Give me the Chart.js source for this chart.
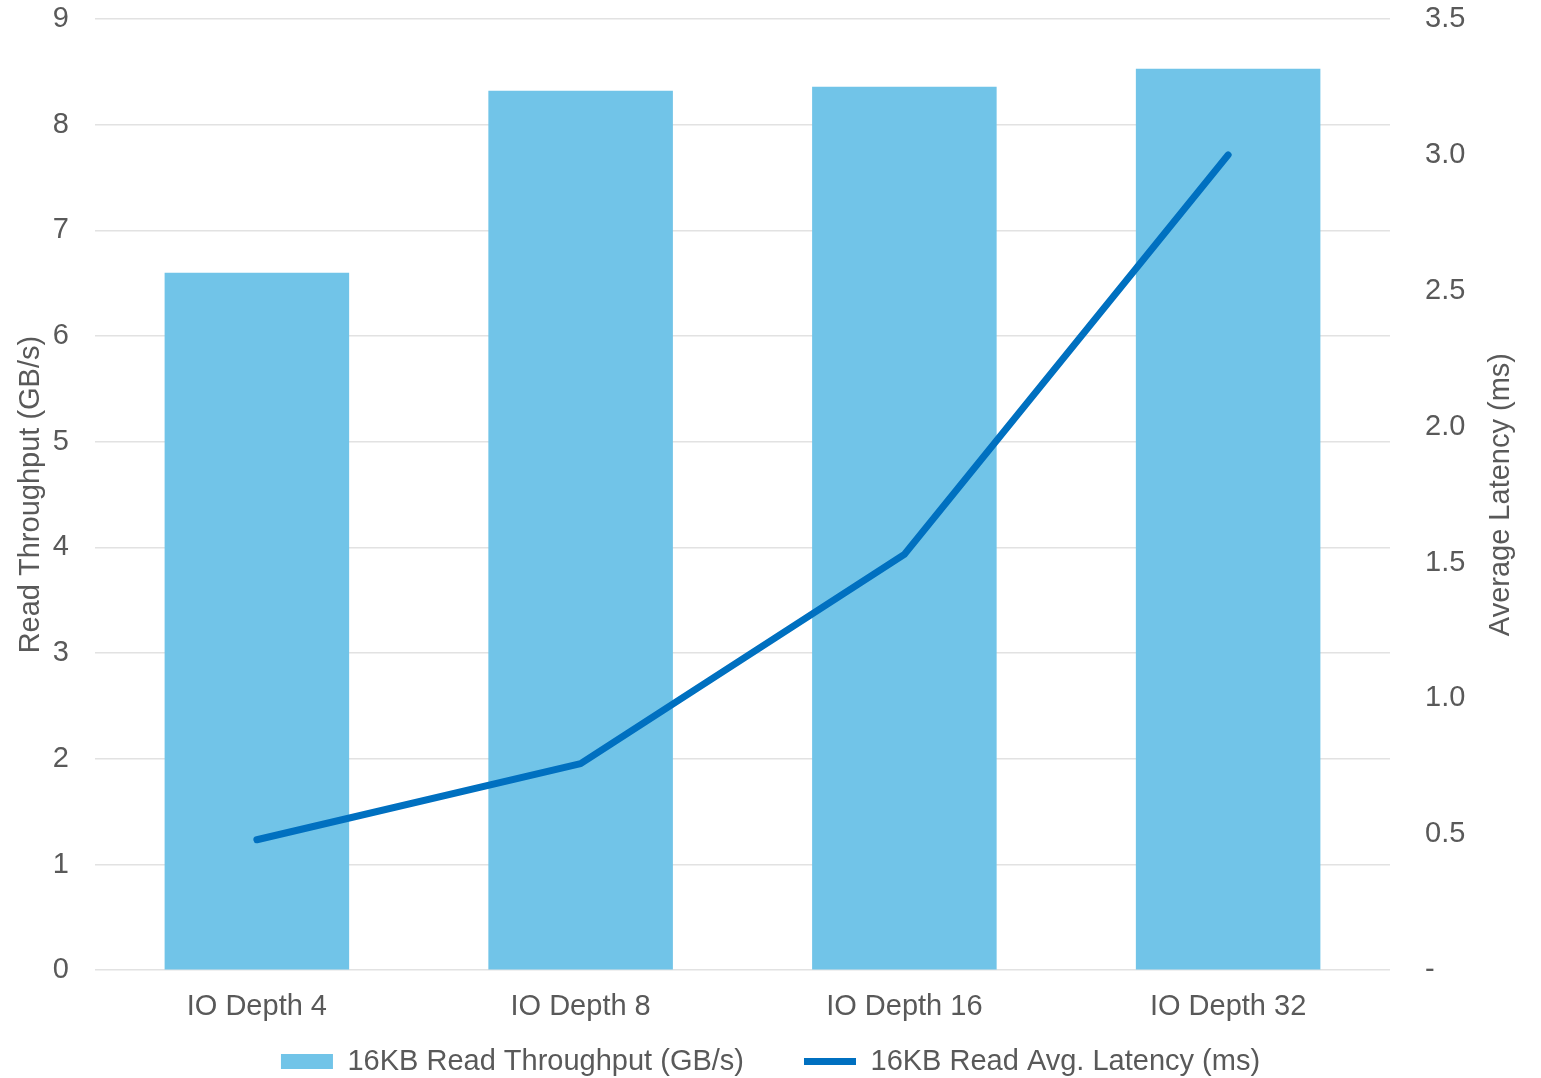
<!DOCTYPE html>
<html>
<head>
<meta charset="utf-8">
<script src="https://cdn.jsdelivr.net/npm/chart.js@4"></script>
<style>
  html, body { margin: 0; padding: 0; background: #fff; }
  #wrap { width: 1541px; height: 1078px; }
</style>
</head>
<body>
<div id="wrap"><canvas id="ioChart" width="1541" height="1078"></canvas></div>
<script>
const categories = ['IO Depth 4', 'IO Depth 8', 'IO Depth 16', 'IO Depth 32'];
const throughput = [6.60, 8.32, 8.36, 8.53];
const latency = [0.48, 0.76, 1.53, 3.00];

const textColor = '#595959';
const gridColor = '#e2e2e2';
const font = { family: 'Liberation Sans, Arial, sans-serif', size: 29 };

// right-hand axis title, drawn bottom-to-top like the left one
const rightTitle = {
    id: 'rightTitle',
    afterDraw(chart) {
        const { ctx, chartArea } = chart;
        ctx.save();
        ctx.translate(1501, (chartArea.top + chartArea.bottom) / 2);
        ctx.rotate(-Math.PI / 2);
        ctx.font = font.size + 'px ' + font.family;
        ctx.fillStyle = textColor;
        ctx.textAlign = 'center';
        ctx.textBaseline = 'middle';
        ctx.fillText('Average Latency (ms)', 0, 0);
        ctx.restore();
    }
};

// pull the legend row up a bit so it sits just under the category labels
const legendSpot = {
    id: 'legendSpot',
    afterLayout(chart) {
        const lg = chart.legend;
        lg.top = 987;
        lg.bottom = chart.height;
        lg.height = lg.bottom - lg.top;
    }
};

const ctx = document.getElementById('ioChart').getContext('2d');

new Chart(ctx, {
    type: 'bar',
    data: {
        labels: categories,
        datasets: [{
            type: 'bar',
            label: '16KB Read Throughput (GB/s)',
            data: throughput,
            backgroundColor: '#71c4e8',
            borderWidth: 0,
            barPercentage: 0.57,
            categoryPercentage: 1,
            yAxisID: 'y',
            pointStyle: 'rect',
            order: 1
        }, {
            type: 'line',
            label: '16KB Read Avg. Latency (ms)',
            data: latency,
            borderColor: '#0070c0',
            backgroundColor: '#0070c0',
            borderWidth: 7,
            borderCapStyle: 'round',
            borderJoinStyle: 'round',
            tension: 0,
            pointRadius: 0,
            pointHoverRadius: 0,
            pointStyle: 'line',
            yAxisID: 'y1',
            order: 0
        }]
    },
    options: {
        responsive: false,
        animation: false,
        layout: { padding: { top: 19, left: 0, right: 0, bottom: 0 } },
        plugins: {
            tooltip: { enabled: false },
            legend: {
                position: 'bottom',
                maxHeight: 35,
                labels: {
                    usePointStyle: true,
                    pointStyleWidth: 52,
                    boxHeight: 15,
                    padding: 60,
                    color: textColor,
                    font: font,
                    sort: (a, b) => a.datasetIndex - b.datasetIndex
                }
            }
        },
        scales: {
            x: {
                grid: { display: false, drawTicks: false },
                border: { display: false },
                ticks: { color: textColor, font: font, padding: 19 }
            },
            y: {
                position: 'left',
                min: 0,
                max: 9,
                ticks: { stepSize: 1, color: textColor, font: font, padding: 0 },
                grid: { color: gridColor, lineWidth: 1.5, tickLength: 26, tickColor: 'rgba(0,0,0,0)' },
                border: { display: false },
                title: {
                    display: true,
                    text: 'Read Throughput (GB/s)',
                    color: textColor,
                    font: font,
                    padding: { top: 14, bottom: 0 }
                },
                afterFit: (scale) => { scale.width = 95; }
            },
            y1: {
                position: 'right',
                min: 0,
                max: 3.5,
                ticks: {
                    stepSize: 0.5,
                    color: textColor,
                    font: font,
                    padding: 0,
                    callback: (v) => v === 0 ? '-' : v.toFixed(1)
                },
                grid: { drawOnChartArea: false, tickLength: 35, tickColor: 'rgba(0,0,0,0)' },
                border: { display: false },
                afterFit: (scale) => { scale.width = 151; }
            }
        }
    },
    plugins: [rightTitle, legendSpot]
});
</script>
</body>
</html>
